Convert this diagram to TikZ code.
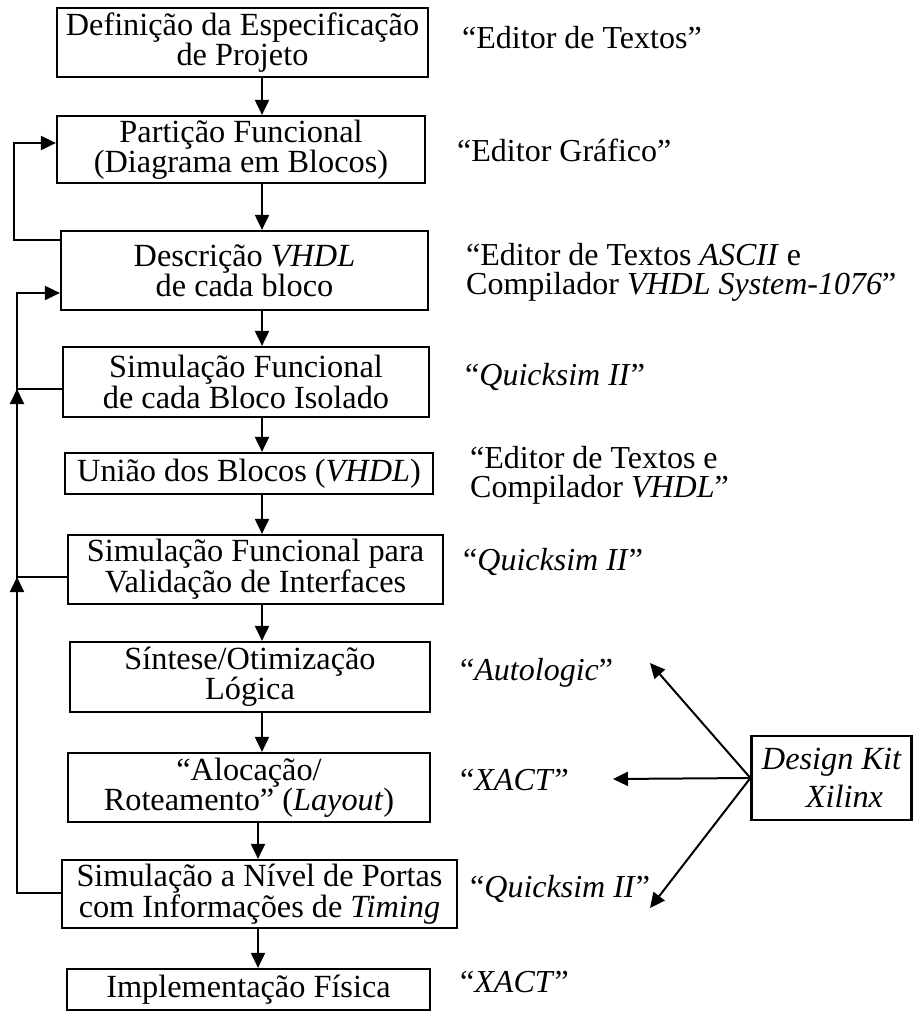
\documentclass[tikz,border=0pt]{standalone}
\usepackage{fontspec}
\setmainfont{Liberation Serif}
\usetikzlibrary{arrows.meta}
\begin{document}
\begin{tikzpicture}[x=1pt,y=-1pt,
  stage/.style={draw,line width=2.2pt,align=center,inner sep=0pt,
    font=\fontsize{32.3}{29}\selectfont},
  tool/.style={align=left,inner sep=0pt,font=\fontsize{32}{29}\selectfont},
  flow/.style={line width=2pt,-{Triangle[length=15pt,width=14pt]}},
  link/.style={line width=2pt}]
\useasboundingbox (0,0) rectangle (913,1011);

% design flow stages
\node[stage,minimum width=371pt,minimum height=69pt,font=\fontsize{32.3}{27}\selectfont] (B1) at (242.5,42.5)
  {Definição da Especificação\\de Projeto};
\node[stage,minimum width=368pt,minimum height=67pt] (B2) at (241,149.5)
  {Partição Funcional\\(Diagrama em Blocos)};
\node[stage,minimum width=367pt,minimum height=79pt] (B3) at (244.5,270.5)
  {Descrição \textit{VHDL}\\de cada bloco};
\node[stage,minimum width=366pt,minimum height=70pt] (B4) at (246,382)
  {Simulação Funcional\\de cada Bloco Isolado};
\node[stage,minimum width=368pt,minimum height=41pt] (B5) at (249,473.5)
  {União dos Blocos (\textit{VHDL})};
\node[stage,minimum width=375pt,minimum height=69pt,font=\fontsize{32.3}{25}\selectfont] (B6) at (255.5,569.5)
  {Simulação Funcional para\\Validação de Interfaces};
\node[stage,minimum width=360pt,minimum height=70pt] (B7) at (250,677)
  {Síntese/Otimização\\Lógica};
\node[stage,minimum width=362pt,minimum height=69pt] (B8) at (249,787.5)
  {“Alocação/\\Roteamento” (\textit{Layout})};
\node[stage,minimum width=395pt,minimum height=68pt,font=\fontsize{32.3}{31}\selectfont] (B9) at (259.5,894)
  {Simulação a Nível de Portas\\com Informações de \textit{Timing}};
\node[stage,minimum width=363pt,minimum height=41pt] (B10) at (248.5,989.5)
  {Implementação Física};

% tool kit
\node[stage,minimum width=160pt,minimum height=84pt,font=\fontsize{32.3}{38}\selectfont\itshape] (DK) at (831.5,778)
  {Design Kit\\\hspace*{0.8em}Xilinx};

% tools used at each stage
\node[tool,anchor=base west] (T1) at (462,49) {“Editor de Textos”};
\node[tool,anchor=base west] (T2) at (457,162) {“Editor Gráfico”};
\node[tool,anchor=west] (T3) at (466,272)
  {“Editor de Textos \textit{ASCII} e\\Compilador \textit{VHDL System-1076}”};
\node[tool,anchor=base west] (T4) at (465,385) {“\textit{Quicksim II}”};
\node[tool,anchor=west] (T5) at (470,475) {“Editor de Textos e\\Compilador \textit{VHDL}”};
\node[tool,anchor=base west] (T6) at (463,570) {“\textit{Quicksim II}”};
\node[tool,anchor=base west] (T7) at (460,680) {“\textit{Autologic}”};
\node[tool,anchor=base west] (T8) at (460,790) {“\textit{XACT}”};
\node[tool,anchor=base west] (T9) at (470,897) {“\textit{Quicksim II}”};
\node[tool,anchor=base west] (T10) at (460,992) {“\textit{XACT}”};

% main downward flow
\coordinate (spine) at (262,0);
\coordinate (spineb) at (258,0);
\draw[flow] (B1.south -| spine) -- (B2.north -| spine);
\draw[flow] (B2.south -| spine) -- (B3.north -| spine);
\draw[flow] (B3.south -| spine) -- (B4.north -| spine);
\draw[flow] (B4.south -| spine) -- (B5.north -| spine);
\draw[flow] (B5.south -| spine) -- (B6.north -| spine);
\draw[flow] (B6.south -| spine) -- (B7.north -| spine);
\draw[flow] (B7.south -| spine) -- (B8.north -| spine);
\draw[flow] (B8.south -| spineb) -- (B9.north -| spineb);
\draw[flow] (B9.south -| spineb) -- (B10.north -| spineb);

% feedback loops on the left
\coordinate (fbA) at (14,0);
\coordinate (fbB) at (17,0);
\coordinate (l1a) at ([yshift=30.5pt]B3.west);
\coordinate (l1b) at ([yshift=6.5pt]B2.west);
\draw[flow] (l1a) -- (l1a -| fbA) |- (l1b);

\coordinate (l2a) at ([yshift=1pt]B9.west);
\coordinate (l2b) at ([yshift=-22.5pt]B3.west);
\draw[flow] (l2a) -- (l2a -| fbB) |- (l2b);

\coordinate (j4) at ([yshift=-7pt]B4.west);
\coordinate (j4f) at (j4 -| fbB);
\draw[link] (j4) -- (j4f);
\draw[flow] ([yshift=-15pt]j4f) -- (j4f);

\coordinate (j6) at ([yshift=-7.5pt]B6.west);
\coordinate (j6f) at (j6 -| fbB);
\draw[link] (j6) -- (j6f);
\draw[flow] ([yshift=-15pt]j6f) -- (j6f);

% design kit feeds three tools
\coordinate (kA) at (650,663);
\coordinate (kB) at (613,779);
\coordinate (kC) at (650,908);
\draw[flow] (DK.west) -- (kA);
\draw[flow] (DK.west) -- (kB);
\draw[flow] (DK.west) -- (kC);
\end{tikzpicture}
\end{document}
